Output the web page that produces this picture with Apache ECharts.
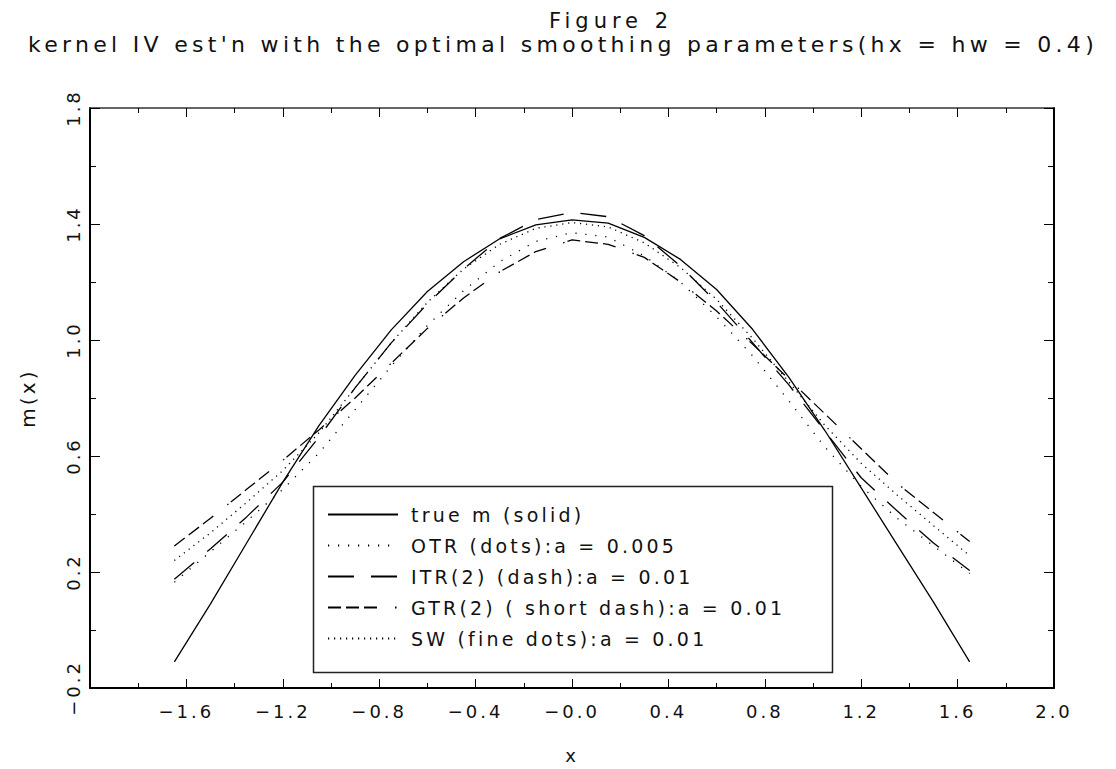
<!DOCTYPE html>
<html>
<head>
<meta charset="utf-8">
<title>Figure 2</title>
<script src="https://cdn.jsdelivr.net/npm/echarts@6.0.0/dist/echarts.min.js"></script>
<style>
  html, body { margin: 0; padding: 0; background: #fff; }
  #chart { width: 1116px; height: 769px; }
  /* the original plotting font is wide and airy */
  #chart text { letter-spacing: 3.2px; }
  #chart text[style*="22px"] { letter-spacing: 4.3px; }
  #chart text[style*="21px"] { letter-spacing: 5px; }
  #chart text[style*="18px"] { letter-spacing: 3px; }
</style>
</head>
<body>
<div id="chart"></div>
<script>
// grid of x values
const xs = [-1.65, -1.5, -1.35, -1.2, -1.05, -0.9, -0.75, -0.6, -0.45, -0.3, -0.15, 0,
  0.15, 0.3, 0.45, 0.6, 0.75, 0.9, 1.05, 1.2, 1.35, 1.5, 1.65]

// values
const trueM = [-0.11, 0.09, 0.30, 0.51, 0.705, 0.878, 1.035, 1.167, 1.27, 1.349, 1.397, 1.414,
  1.403, 1.354, 1.278, 1.174, 1.036, 0.871, 0.687, 0.49, 0.293, 0.096, -0.11]
const otr = [0.165, 0.27, 0.375, 0.485, 0.61, 0.76, 0.91, 1.05, 1.17, 1.27, 1.34, 1.37,
  1.355, 1.29, 1.20, 1.08, 0.945, 0.79, 0.63, 0.495, 0.385, 0.29, 0.195]
const itr = [0.175, 0.28, 0.39, 0.51, 0.665, 0.835, 0.99, 1.125, 1.245, 1.35, 1.415, 1.44,
  1.425, 1.36, 1.255, 1.13, 0.99, 0.845, 0.685, 0.525, 0.41, 0.30, 0.205]
const gtr = [0.29, 0.385, 0.485, 0.585, 0.69, 0.80, 0.92, 1.04, 1.145, 1.235, 1.305, 1.345,
  1.33, 1.285, 1.20, 1.10, 0.985, 0.865, 0.745, 0.625, 0.505, 0.405, 0.305]
const sw = [0.24, 0.335, 0.44, 0.55, 0.68, 0.835, 0.99, 1.13, 1.245, 1.33, 1.385, 1.405,
  1.39, 1.335, 1.25, 1.14, 1.005, 0.855, 0.705, 0.575, 0.465, 0.36, 0.256]

const names = [
  'true m (solid)',
  'OTR (dots):a = 0.005',
  'ITR(2) (dash):a = 0.01',
  'GTR(2) ( short dash):a = 0.01',
  'SW (fine dots):a = 0.01'
]

const pairs = ys => xs.map((x, i) => [x, ys[i]])
const fmt = v => {
  if (Math.abs(v) < 1e-9) return '\u22120.0'
  return (v < 0 ? '\u2212' : '') + Math.abs(v).toFixed(1)
}

const chart = echarts.init(document.getElementById('chart'), null, { renderer: 'svg' })

const lineSeries = (name, ys, dash) => ({
  name: name,
  type: 'line',
  data: pairs(ys),
  symbol: 'none',
  showSymbol: false,
  silent: true,
  itemStyle: { color: '#000' },
  lineStyle: { color: '#000', width: 1.3, type: dash }
})

const tickStyle = { color: '#000', width: 1 }

const option = {
  animation: false,
  backgroundColor: '#fff',
  textStyle: { fontFamily: 'DejaVu Sans', color: '#111' },
  title: [
    {
      text: 'Figure 2',
      left: 606,
      textAlign: 'center',
      top: 5,
      textStyle: { fontSize: 21, fontWeight: 'normal', color: '#111', fontFamily: 'DejaVu Sans' }
    },
    {
      text: "kernel IV est'n with the optimal smoothing parameters(hx = hw = 0.4)",
      left: 558,
      textAlign: 'center',
      top: 28,
      textStyle: { fontSize: 22, fontWeight: 'normal', color: '#111', fontFamily: 'DejaVu Sans' }
    }
  ],
  grid: { left: 90, right: 62, top: 108, bottom: 80 },
  legend: {
    orient: 'vertical',
    left: 327,
    top: 505,
    padding: 0,
    itemWidth: 70,
    itemHeight: 14,
    itemGap: 12,
    selectedMode: false,
    itemStyle: { opacity: 0, borderWidth: 0 },
    textStyle: { fontSize: 19, color: '#111', padding: [0, 0, 0, 8] },
    data: names
  },
  graphic: [
    {
      type: 'rect',
      left: 311,
      top: 484,
      shape: { width: 519, height: 186 },
      style: { fill: 'none', stroke: '#222', lineWidth: 1.5 },
      silent: true
    }
  ],
  xAxis: [
    {
      type: 'value',
      min: -2,
      max: 2,
      interval: 0.4,
      position: 'bottom',
      axisLine: { onZero: false, lineStyle: { color: '#000', width: 2 } },
      axisTick: { inside: true, length: 9, lineStyle: tickStyle },
      minorTick: { show: true, splitNumber: 2, length: 5, lineStyle: tickStyle },
      splitLine: { show: false },
      axisLabel: { showMinLabel: false, margin: 14, fontSize: 18, color: '#111', formatter: fmt },
      name: 'x',
      nameLocation: 'middle',
      nameGap: 58,
      nameTextStyle: { fontSize: 18, color: '#111' }
    },
    {
      type: 'value',
      min: -2,
      max: 2,
      interval: 0.4,
      position: 'top',
      axisLine: { onZero: false, lineStyle: { color: '#333', width: 1.5 } },
      axisTick: { inside: true, length: 9, lineStyle: tickStyle },
      minorTick: { show: true, splitNumber: 2, length: 5, lineStyle: tickStyle },
      splitLine: { show: false },
      axisLabel: { show: false }
    }
  ],
  yAxis: [
    {
      type: 'value',
      min: -0.2,
      max: 1.8,
      interval: 0.4,
      position: 'left',
      axisLine: { onZero: false, lineStyle: { color: '#000', width: 2 } },
      axisTick: { inside: true, length: 10, lineStyle: tickStyle },
      minorTick: { show: true, splitNumber: 2, length: 6, lineStyle: tickStyle },
      splitLine: { show: false },
      axisLabel: { rotate: 90, margin: 8, fontSize: 18, color: '#111', formatter: fmt },
      name: 'm(x)',
      nameLocation: 'middle',
      nameRotate: 90,
      nameGap: 52,
      nameTextStyle: { fontSize: 20, color: '#111' }
    },
    {
      type: 'value',
      min: -0.2,
      max: 1.8,
      interval: 0.4,
      position: 'right',
      axisLine: { onZero: false, lineStyle: { color: '#000', width: 2 } },
      axisTick: { inside: true, length: 10, lineStyle: tickStyle },
      minorTick: { show: true, splitNumber: 2, length: 6, lineStyle: tickStyle },
      splitLine: { show: false },
      axisLabel: { show: false }
    }
  ],
  series: [
    lineSeries(names[0], trueM, 'solid'),
    lineSeries(names[1], otr, [1.2, 8.8]),
    lineSeries(names[2], itr, [26, 17]),
    lineSeries(names[3], gtr, [13, 5, 13, 5, 13, 18, 1.5, 3]),
    lineSeries(names[4], sw, [1.2, 4.8])
  ]
}

chart.setOption(option)
window.addEventListener('resize', () => chart.resize())
</script>
</body>
</html>
